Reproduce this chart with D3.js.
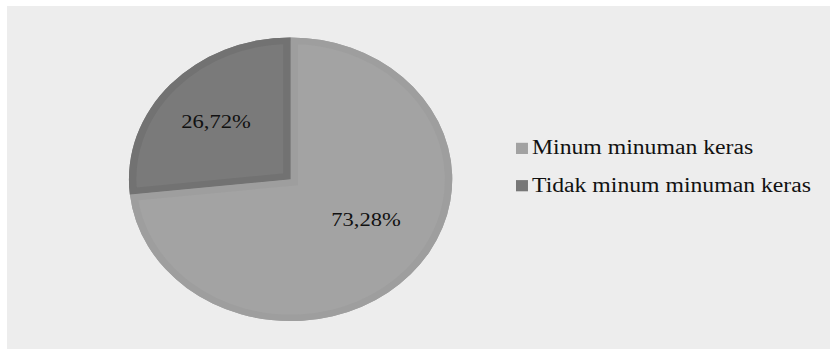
<!DOCTYPE html>
<html>
<head>
<meta charset="utf-8">
<script src="https://cdn.jsdelivr.net/npm/d3@7"></script>
<style>
  html, body { margin: 0; padding: 0; background: #ffffff; }
  svg { display: block; }
</style>
</head>
<body>
<svg id="chart" width="830" height="349"></svg>
<script>
// Share of respondents by drinking habit
const categories = ["Minum minuman keras", "Tidak minum minuman keras"];
const values = [73.28, 26.72];
const valueLabels = ["73,28%", "26,72%"];
const fills = ["#a3a3a3", "#7a7a7a"];
const rims = ["#9e9e9e", "#727272"];
const legendFills = ["#a2a2a2", "#777777"];

const FONT = '"Liberation Serif", "Times New Roman", Times, serif';
const W = 830, H = 349;
const stretch = 1.14;           // whole drawing is widened horizontally
const cx = 290.6 / stretch, cy = 179.3, R = 141.8;

const svg = d3.select("#chart");

// panel background
svg.append("rect")
  .attr("x", 7).attr("y", 6)
  .attr("width", W - 7).attr("height", H - 6)
  .attr("fill", "#ededed");

const root = svg.append("g").attr("transform", `scale(${stretch},1)`);
const defs = svg.append("defs");

const pie = d3.pie().sort(null).value(d => d);
const arcs = pie(values);
const arc = d3.arc().innerRadius(0).outerRadius(R);

const pieG = root.append("g").attr("transform", `translate(${cx},${cy})`);

arcs.forEach((a, i) => {
  defs.append("clipPath").attr("id", "slice" + i)
    .append("path").attr("d", arc(a))
    .attr("transform", `scale(${stretch},1) translate(${cx},${cy})`);
});

// slices: a flat fill plus a slightly darker bevel band along each edge
pieG.selectAll("path.slice")
  .data(arcs)
  .join("path")
  .attr("class", "slice")
  .attr("d", arc)
  .attr("fill", (d, i) => fills[i]);

const bevel = svg.append("g");
arcs.forEach((a, i) => {
  bevel.append("g").attr("clip-path", `url(#slice${i})`)
    .append("path")
    .attr("transform", `scale(${stretch},1) translate(${cx},${cy})`)
    .attr("d", arc(a))
    .attr("fill", "none")
    .attr("stroke", rims[i])
    .attr("stroke-width", 13)
    .attr("stroke-linejoin", "miter");
});

// value labels placed along each slice
const labelAt = [0.459, 0.5];
const labelR = [0.545, 0.62];
const labG = svg.append("g").attr("transform", `scale(${stretch},1) translate(${cx},${cy})`);
arcs.forEach((a, i) => {
  const ang = a.startAngle + labelAt[i] * (a.endAngle - a.startAngle);
  const r = labelR[i] * R;
  labG.append("text")
    .attr("x", r * Math.sin(ang))
    .attr("y", -r * Math.cos(ang))
    .attr("dy", "0.35em")
    .attr("text-anchor", "middle")
    .style("font-family", FONT)
    .attr("font-size", 19.8)
    .attr("fill", "#111")
    .text(valueLabels[i]);
});

// legend
const legend = svg.append("g").attr("transform", `scale(${stretch},1)`);
const legY = [154.3, 191.6];
categories.forEach((c, i) => {
  legend.append("rect")
    .attr("x", 516 / stretch).attr("y", legY[i] - 11.5)
    .attr("width", 10.5).attr("height", 11.2)
    .attr("fill", legendFills[i]);
  legend.append("text")
    .attr("x", 532 / stretch).attr("y", legY[i])
    .style("font-family", FONT)
    .attr("font-size", 20.8)
    .attr("fill", "#111")
    .text(c);
});
</script>
</body>
</html>
